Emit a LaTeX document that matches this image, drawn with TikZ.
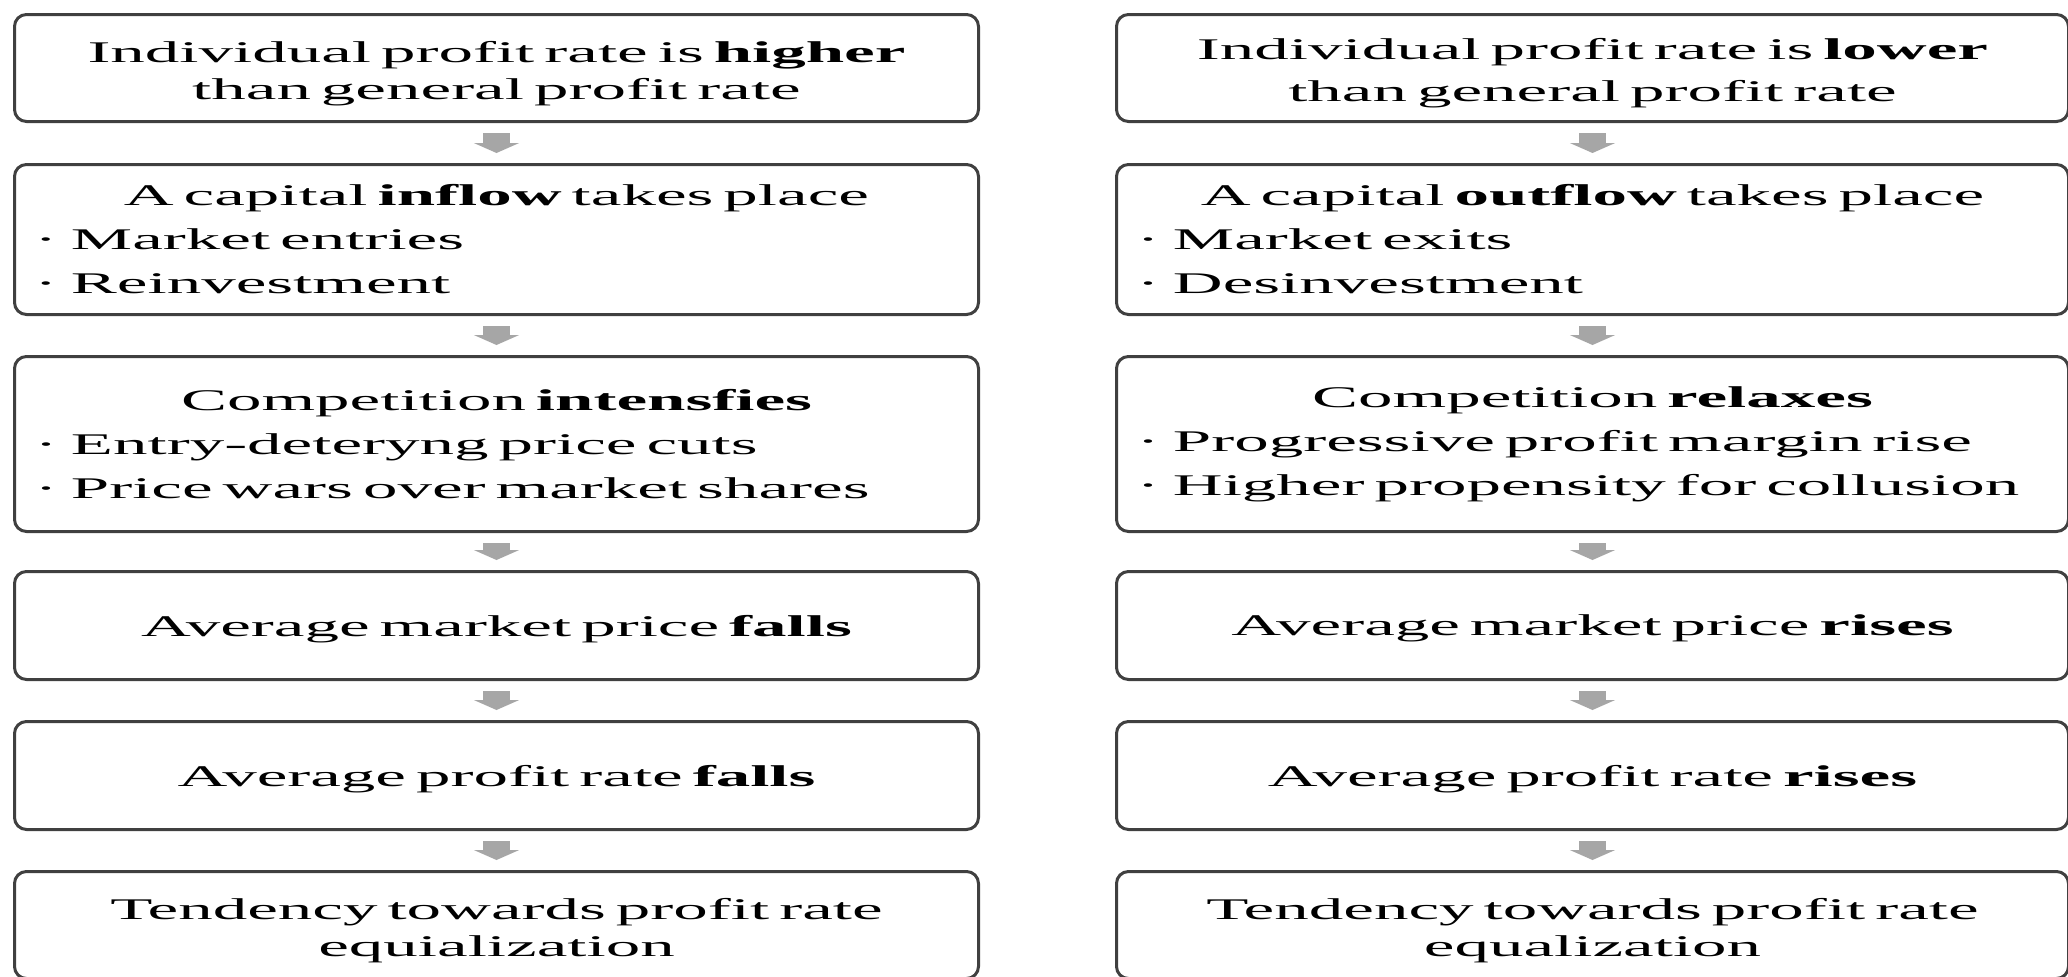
\documentclass[tikz,border=0pt]{standalone}
\usepackage{fontspec}
\setmainfont{Liberation Serif}[FakeStretch=2.3]
\usetikzlibrary{arrows.meta}

\newcommand{\itemdot}{\textperiodcentered\hspace{0.45em}}

\begin{document}
\begin{tikzpicture}[x=0.5pt, y=-0.5pt,
    box/.style={draw=black!75, line width=1.5pt, rounded corners=6pt, inner xsep=10pt, inner ysep=0pt, align=center, font=\fontsize{15pt}{18.5pt}\selectfont},
    lbox/.style={box, minimum width=482pt, text width=462pt},
    rbox/.style={box, minimum width=476pt, text width=456pt},
    listbox/.style={align=left, font=\fontsize{15pt}{22pt}\selectfont},
    onebox/.style={text depth=0pt},
    twobox/.style={execute at begin node={\rule{0pt}{16pt}}},
    flow/.style={-{Triangle[width=22.5pt, length=5pt]}, line width=13.5pt, draw=black!35, shorten <=5pt, shorten >=5pt}]
    \useasboundingbox (0,0) rectangle (2068,976);

    % 左の列
    \node[lbox, twobox, minimum height=53.5pt] (L1) at (496.5,68) {Individual profit rate is \textbf{higher}\\than general profit rate};
    \node[lbox, listbox, minimum height=75pt] (L2) at (496.5,239.5) {{\centering A capital \textbf{inflow} takes place\par}
      \itemdot Market entries\par
      \itemdot Reinvestment};
    \node[lbox, listbox, minimum height=87.5pt] (L3) at (496.5,444) {{\centering Competition \textbf{intensfies}\par}
      \itemdot Entry-deteryng price cuts\par
      \itemdot Price wars over market shares};
    \node[lbox, onebox, minimum height=54pt] (L4) at (496.5,625.5) {Average market price \textbf{falls}};
    \node[lbox, onebox, minimum height=54pt] (L5) at (496.5,775.5) {Average profit rate \textbf{falls}};
    \node[lbox, twobox, minimum height=53.5pt] (L6) at (496.5,925) {Tendency towards profit rate\\equialization};

    % 右の列
    \node[rbox, twobox, minimum height=53.5pt, font=\fontsize{15pt}{21pt}\selectfont] (R1) at (1592.5,68) {Individual profit rate is \textbf{lower}\\than general profit rate};
    \node[rbox, listbox, minimum height=75pt] (R2) at (1592.5,239.5) {{\centering A capital \textbf{outflow} takes place\par}
      \itemdot Market exits\par
      \itemdot Desinvestment};
    \node[rbox, listbox, minimum height=87.5pt] (R3) at (1592.5,444) {{\centering Competition \textbf{relaxes}\par}
      \itemdot Progressive profit margin rise\par
      \itemdot Higher propensity for collusion};
    \node[rbox, onebox, minimum height=54pt] (R4) at (1592.5,625.5) {Average market price \textbf{rises}};
    \node[rbox, onebox, minimum height=54pt] (R5) at (1592.5,775.5) {Average profit rate \textbf{rises}};
    \node[rbox, twobox, minimum height=53.5pt] (R6) at (1592.5,925) {Tendency towards profit rate\\equalization};

    % 矢印
    \draw[flow] (L1) -- (L2);
    \draw[flow] (L2) -- (L3);
    \draw[flow] (L3) -- (L4);
    \draw[flow] (L4) -- (L5);
    \draw[flow] (L5) -- (L6);
    \draw[flow] (R1) -- (R2);
    \draw[flow] (R2) -- (R3);
    \draw[flow] (R3) -- (R4);
    \draw[flow] (R4) -- (R5);
    \draw[flow] (R5) -- (R6);
\end{tikzpicture}
\end{document}
